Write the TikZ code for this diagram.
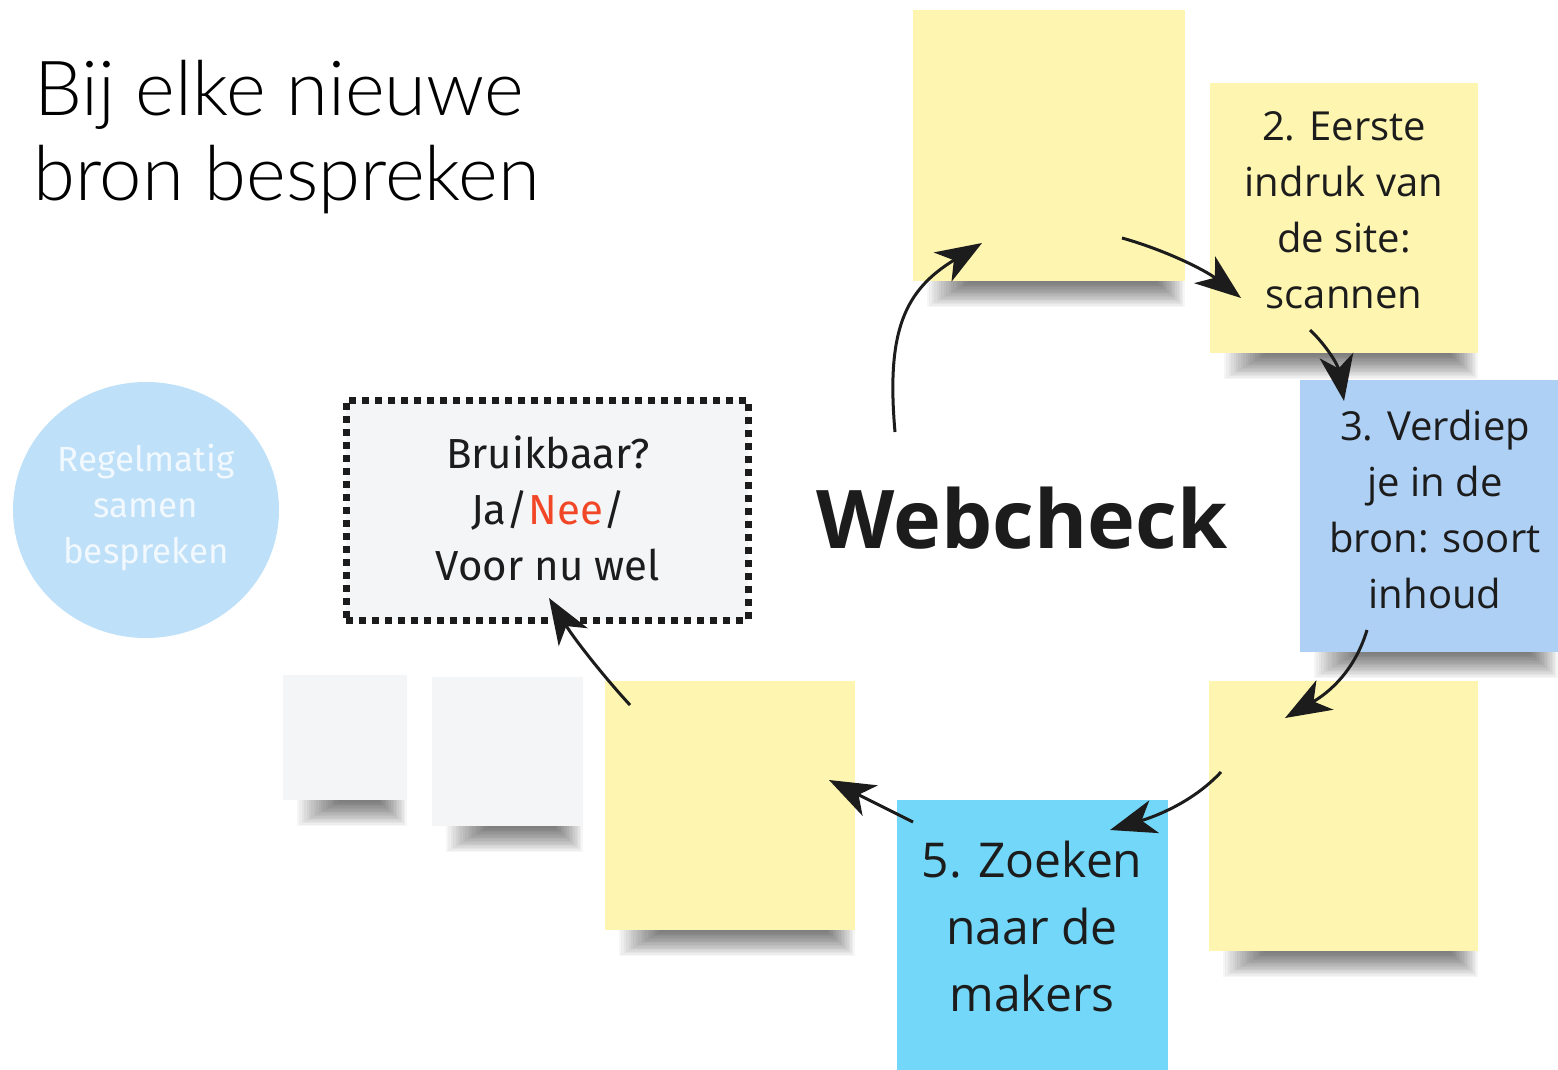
\documentclass[tikz,border=0pt]{standalone}
\usepackage{fontspec}
\setmainfont{Open Sans}
\newfontfamily\titlefont{Lato Light}
\newfontfamily\plexfont{Fira Sans}
\usetikzlibrary{arrows.meta,shapes.geometric}
\definecolor{stY}{HTML}{FEF5B0}
\definecolor{stB}{HTML}{AED0F5}
\definecolor{stC}{HTML}{72D7F8}
\definecolor{stW}{HTML}{F4F5F7}
\definecolor{circ}{HTML}{BEE0F8}
\definecolor{circtxt}{HTML}{F2F9FE}
\definecolor{nee}{HTML}{F24726}
\definecolor{ink}{HTML}{1C1C1C}
\tikzset{
  sticky/.style={draw=none, inner sep=0pt, outer sep=0pt},
  shadowlayer/.style={fill=black, opacity=0.036},
  notetxt/.style={align=center, text=ink, inner sep=0pt, font=\fontsize{40}{56}\selectfont},
  arr/.style={line width=3pt, draw=ink, -{Stealth[length=46pt,width=34pt,inset=13pt]}},
}
\newcommand\noteshadow[4]{\foreach \k in {0,...,17}{\fill[shadowlayer] (#1+14+\k*2.4, #4-2) rectangle (#3-\k*1.6, #4+26-\k*1.4);}}
\begin{document}
\begin{tikzpicture}[x=1pt,y=-1pt]
\useasboundingbox (0,0) rectangle (1558,1069);
\fill[white] (0,0) rectangle (1558,1069);

% title
\node[anchor=base west, inner sep=0pt, font=\titlefont\fontsize{76}{85}\selectfont, text=black] (t1) at (34,115) {Bij elke nieuwe};
\node[anchor=base west, inner sep=0pt, font=\titlefont\fontsize{76}{85}\selectfont, text=black] (t2) at (33,200) {bron bespreken};

% circle
\node[ellipse, fill=circ, minimum width=266pt, minimum height=256pt, inner sep=0pt] (circle) at (146,510) {};
\node[align=center, text=circtxt, inner sep=0pt, font=\plexfont\fontsize{35}{46}\selectfont] (circletxt) at (146,508) {Regelmatig\\samen\\bespreken};

% shadows
\noteshadow{283}{675}{407}{800}
\noteshadow{432}{677}{583}{826}
\noteshadow{913}{10}{1185}{281}
\noteshadow{1210}{83}{1478}{353}
\noteshadow{1300}{380}{1558}{652}
\noteshadow{1209}{681}{1478}{951}
\noteshadow{605}{681}{855}{930}

% white notes
\node[sticky, fill=stW, minimum width=124pt, minimum height=125pt] (w1) at (345,737.5) {};
\node[sticky, fill=stW, minimum width=151pt, minimum height=149pt] (w2) at (507.5,751.5) {};

% dotted box
\node[fill=stW, draw=ink, line width=7pt, dash pattern=on 7pt off 6pt, minimum width=402pt, minimum height=220pt, inner sep=0pt] (box) at (547,510) {};
\node[align=center, text=ink, inner sep=0pt, font=\plexfont\fontsize{42}{56}\selectfont] (boxtxt) at (548,508) {Bruikbaar?\\Ja/\textcolor{nee}{Nee}/\\Voor nu wel};

% stickies
\node[sticky, fill=stY, minimum width=272pt, minimum height=271pt] (n1) at (1049,145.5) {};
\node[sticky, fill=stY, minimum width=268pt, minimum height=270pt] (n2) at (1344,218) {};
\node[notetxt] (n2txt) at (1344,210) {2. Eerste\\indruk van\\de site:\\scannen};
\node[sticky, fill=stB, minimum width=258pt, minimum height=272pt] (n3) at (1429,516) {};
\node[notetxt] (n3txt) at (1435,509) {3. Verdiep\\je in de\\bron: soort\\inhoud};
\node[sticky, fill=stY, minimum width=269pt, minimum height=270pt] (n4) at (1343.5,816) {};
\node[sticky, fill=stC, minimum width=271pt, minimum height=290pt] (n5) at (1032.5,945) {};
\node[notetxt, font=\fontsize{48}{67}\selectfont] (n5txt) at (1032,926) {5. Zoeken\\naar de\\makers};
\node[sticky, fill=stY, minimum width=250pt, minimum height=249pt] (n6) at (730,805.5) {};

% Webcheck
\node[inner sep=0pt, text=ink, font=\bfseries\fontsize{81}{100}\selectfont] (web) at (1022,518) {Webcheck};

% arrow end points
\coordinate (a1s) at (895,432);  \coordinate (a1e) at (982,243);
\coordinate (a2s) at (1122,238); \coordinate (a2e) at (1241,298);
\coordinate (a3s) at (1310,330); \coordinate (a3e) at (1344,401);
\coordinate (a4s) at (1367,630); \coordinate (a4e) at (1285,718);
\coordinate (a5s) at (1221,772); \coordinate (a5e) at (1110,830);
\coordinate (a6s) at (913,822);  \coordinate (a6e) at (829,780);
\coordinate (a7s) at (630,705);  \coordinate (a7e) at (549,598);

\draw[arr] (a1s) .. controls (886,330) and (905,290) .. (a1e);
\draw[arr] (a2s) .. controls (1165,250) and (1205,270) .. (a2e);
\draw[arr] (a3s) .. controls (1326,345) and (1338,365) .. (a3e);
\draw[arr] (a4s) .. controls (1355,670) and (1330,692) .. (a4e);
\draw[arr] (a5s) .. controls (1195,800) and (1160,815) .. (a5e);
\draw[arr] (a6s) -- (a6e);
\draw[arr] (a7s) .. controls (605,678) and (575,640) .. (a7e);
\end{tikzpicture}
\end{document}
